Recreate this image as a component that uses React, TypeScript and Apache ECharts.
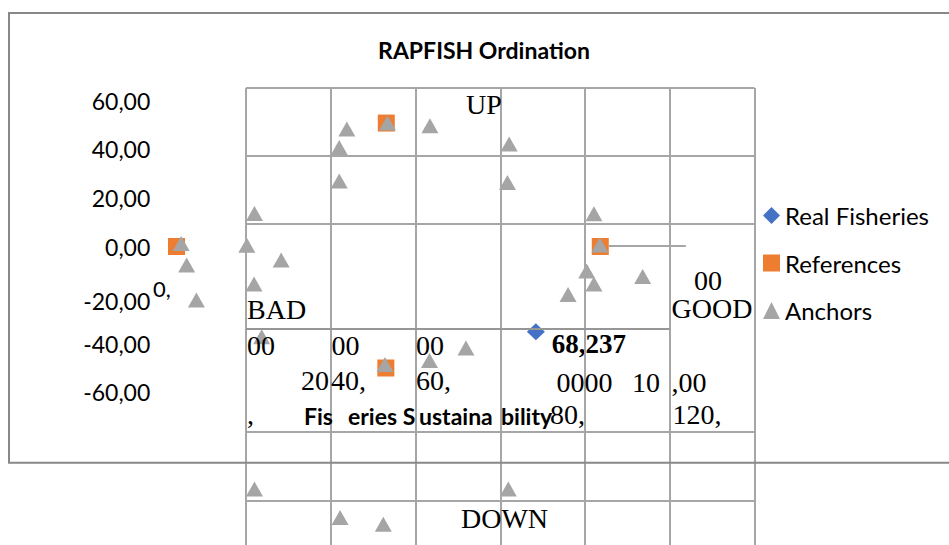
import { useEffect, useRef } from "react";
import * as echarts from "echarts";

// ---- data (x = sustainability score, y = up/down axis) ----
const realFisheries: [number, number][] = [[84.8, -35.1]];
const realFisheriesLabel = "68,237";
const references: [number, number][] = [
  [0, 0],
  [100, 0],
  [49.5, 50.8],
  [49.4, -50.0],
];
const anchors: [number, number][] = [
  [1.1, 1.2], [2.4, -7.6], [4.7, -22.0], [16.6, 0.5], [18.4, 13.6], [24.7, -5.6],
  [18.3, -15.4], [20.1, -37.1], [38.4, 40.7], [40.2, 48.4], [49.8, 50.8], [59.8, 49.7],
  [78.5, 42.2], [38.4, 27.0], [78.1, 26.3], [98.5, 13.5], [99.9, 0.6], [96.8, -10.1],
  [98.5, -15.4], [92.4, -19.8], [110.0, -12.3], [68.3, -41.8], [59.7, -46.9], [49.2, -48.6],
  [18.4, -99.8], [78.3, -99.8], [38.6, -111.5], [48.8, -114.3],
];
const yTickLabels = [60, 40, 20, 0, -20, -40, -60];
const seriesNames = ["Real Fisheries", "References", "Anchors"];

// ---- overlaid table (column units, row offsets) ----
const tableRules: { coords: [number, number][]; dark?: boolean }[] = [
  { coords: [[0, 0], [6, 0]] },
  { coords: [[0, 67.5], [6, 67.5]] },
  { coords: [[0, 135.5], [6, 135.5]] },
  { coords: [[0, 240.3], [5, 240.3]], dark: true },
  { coords: [[0, 344], [6, 344]] },
  { coords: [[0, 412.5], [6, 412.5]] },
  { coords: [[4.28, 157.7], [5.19, 157.7]] },
];

// ---- stray texts ----
const serifNotes = [
  { text: "UP", x: 466, y: 104.5 },
  { text: "BAD", x: 247, y: 309 },
  { text: "GOOD", x: 671.5, y: 308.3 },
  { text: "00", x: 694, y: 280 },
  { text: "00", x: 247, y: 345 },
  { text: "00", x: 331.5, y: 345 },
  { text: "00", x: 416, y: 345 },
  { text: "20", x: 301, y: 380.5 },
  { text: "40,", x: 331, y: 380.5 },
  { text: "60,", x: 416, y: 380.5 },
  { text: "0000", x: 556.5, y: 382 },
  { text: "10", x: 632, y: 382 },
  { text: ",00", x: 671.5, y: 382 },
  { text: ",", x: 247, y: 414 },
  { text: "80,", x: 550, y: 414 },
  { text: "120,", x: 672.5, y: 414 },
  { text: "DOWN", x: 461, y: 518 },
];
const sansBoldNotes = [
  { text: "Fis", x: 304, y: 415.5 },
  { text: "eries S", x: 348, y: 415.5 },
  { text: "ustaina", x: 419, y: 415.5 },
  { text: "bility", x: 501, y: 415.5 },
];
const sansNotes = [{ text: "0,", x: 153, y: 288 }];

const fmt = (v: number) => v.toFixed(2).replace(".", ",");

export default function App() {
  const ref = useRef<HTMLDivElement>(null);
  useEffect(() => {
    document.body.style.margin = "0";
    const chart = echarts.init(ref.current!, null, { renderer: "svg" });
    const labelFont = { fontFamily: "Lato", fontSize: 23, color: "#000" };
    const graphic: any[] = [
      {
        type: "rect",
        z: 10,
        silent: true,
        shape: { x: 9, y: 13, width: 960, height: 449.7 },
        style: { fill: "none", stroke: "#888888", lineWidth: 2 },
      },
      ...serifNotes.map((n) => ({
        type: "text",
        z: 10,
        x: n.x,
        y: n.y,
        silent: true,
        style: {
          text: n.text,
          fontFamily: "Liberation Serif",
          fontSize: 28,
          fill: "#000",
          align: "left",
          verticalAlign: "middle",
        },
      })),
      ...sansBoldNotes.map((n) => ({
        type: "text",
        z: 10,
        x: n.x,
        y: n.y,
        silent: true,
        style: {
          text: n.text,
          fontFamily: "Lato",
          fontWeight: "bold",
          fontSize: 23,
          fill: "#000",
          align: "left",
          verticalAlign: "middle",
        },
      })),
      ...sansNotes.map((n) => ({
        type: "text",
        z: 10,
        x: n.x,
        y: n.y,
        silent: true,
        style: {
          text: n.text,
          fontFamily: "Lato",
          fontSize: 22,
          fill: "#000",
          align: "left",
          verticalAlign: "middle",
        },
      })),
    ];
    const option: any = {
      animation: false,
      backgroundColor: "#ffffff",
      title: {
        text: "RAPFISH Ordination",
        left: 479,
        top: 33,
        textAlign: "center",
        textStyle: { fontFamily: "Lato", fontWeight: "bold", fontSize: 23, color: "#000" },
      },
      legend: {
        orient: "vertical",
        left: 758,
        top: 198.5,
        itemWidth: 17,
        itemHeight: 17,
        itemGap: 23.5,
        textStyle: { fontFamily: "Lato", fontSize: 24, color: "#000" },
        data: [
          { name: seriesNames[0], icon: "diamond" },
          { name: seriesNames[1], icon: "rect" },
          { name: seriesNames[2], icon: "triangle" },
        ],
      },
      grid: [
        { left: 155.3, right: 179.2, top: 52.1, bottom: 6.9 },
        { left: 246, right: 194.5, top: 88, bottom: 0 },
      ],
      xAxis: [
        { gridIndex: 0, type: "value", min: -5, max: 140, show: false },
        {
          gridIndex: 1,
          type: "value",
          min: 0,
          max: 6,
          interval: 1,
          z: 5,
          axisLine: { show: false },
          axisTick: { show: false },
          axisLabel: { show: false },
          splitLine: { show: true, lineStyle: { color: "#a6a6a6", width: 2 } },
        },
      ],
      yAxis: [
        {
          gridIndex: 0,
          type: "value",
          min: -120,
          max: 80,
          interval: 20,
          axisLine: { show: false },
          axisTick: { show: false },
          splitLine: { show: false },
          axisLabel: {
            margin: 5,
            ...labelFont,
            formatter: (v: number) => {
              if (!yTickLabels.includes(v)) return "";
              return v === -20 ? "{low|" + fmt(v) + "}" : fmt(v);
            },
            rich: { low: { ...labelFont, padding: [12, 0, 0, 0] } },
          },
        },
        { gridIndex: 1, type: "value", min: 0, max: 457, inverse: true, show: false },
      ],
      series: [
        {
          name: seriesNames[0],
          type: "scatter",
          xAxisIndex: 0,
          yAxisIndex: 0,
          symbol: "diamond",
          symbolSize: [18, 17],
          itemStyle: { color: "#4472C4", opacity: 1 },
          data: realFisheries,
          clip: false,
          label: {
            show: true,
            position: "right",
            distance: 0,
            offset: [7, 12.5],
            formatter: () => realFisheriesLabel,
            fontFamily: "Liberation Serif",
            fontWeight: "bold",
            fontSize: 27,
            color: "#000",
            opacity: 1,
          },
        },
        {
          name: seriesNames[1],
          type: "scatter",
          xAxisIndex: 0,
          yAxisIndex: 0,
          symbol: "rect",
          symbolSize: 17,
          itemStyle: { color: "#ED7D31", opacity: 1 },
          data: references,
          clip: false,
        },
        {
          name: seriesNames[2],
          type: "scatter",
          xAxisIndex: 0,
          yAxisIndex: 0,
          symbol: "triangle",
          symbolSize: [17, 15],
          itemStyle: { color: "#A5A5A5", opacity: 1 },
          data: anchors,
          clip: false,
        },
        {
          name: "table",
          type: "lines",
          coordinateSystem: "cartesian2d",
          xAxisIndex: 1,
          yAxisIndex: 1,
          z: 5,
          silent: true,
          polyline: false,
          lineStyle: { color: "#a6a6a6", width: 2, opacity: 1 },
          data: tableRules.map((r) => ({
            coords: r.coords,
            lineStyle: { color: r.dark ? "#969696" : "#a6a6a6", width: 2, opacity: 1 },
          })),
        },
      ],
      graphic,
    };
    chart.setOption(option);
    return () => chart.dispose();
  }, []);
  return <div ref={ref} style={{ width: 949, height: 545 }} />;
}
